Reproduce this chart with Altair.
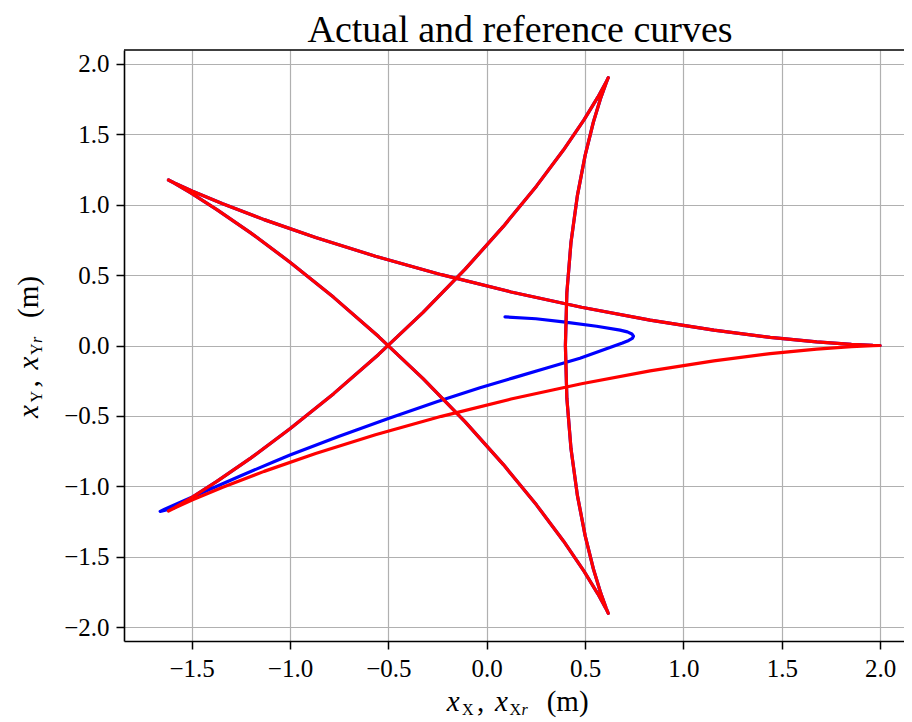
import altair as alt
import pandas as pd

# ---------------- data ----------------
ref_x = [2.0, 1.9631, 1.8541, 1.6775, 1.4411, 1.1547, 0.8305, 0.4820, 0.1236, -0.2303, -0.5657, -0.8698, -1.1317, -1.3423, -1.4955, -1.5876, -1.6180,
         -1.5888, -1.5045, -1.3719, -1.2000, -0.9985, -0.7781, -0.5497, -0.3236, -0.1094, 0.0848, 0.2527, 0.3900, 0.4944, 0.5657, 0.6057, 0.6180,
         0.6076, 0.5802, 0.5424, 0.5006, 0.4609, 0.4285, 0.4074, 0.4000, 0.4074, 0.4285, 0.4609, 0.5006, 0.5424, 0.5802, 0.6076, 0.6180,
         0.6057, 0.5657, 0.4944, 0.3900, 0.2527, 0.0848, -0.1094, -0.3236, -0.5497, -0.7781, -0.9985, -1.2000, -1.3719, -1.5045, -1.5888, -1.6180,
         -1.5876, -1.4955, -1.3423, -1.1317, -0.8698, -0.5657, -0.2303, 0.1236, 0.4820, 0.8305, 1.1547, 1.4411, 1.6775, 1.8541, 1.9631, 2.0]
ref_y = [0.0, 0.0010, 0.0076, 0.0252, 0.0581, 0.1094, 0.1807, 0.2717, 0.3804, 0.5031, 0.6343, 0.7672, 0.8941, 1.0064, 1.0960, 1.1547, 1.1756,
         1.1531, 1.0837, 0.9656, 0.8001, 0.5902, 0.3420, 0.0635, -0.2351, -0.5424, -0.8457, -1.1319, -1.3885, -1.6032, -1.7657, -1.8674, -1.9021,
         -1.8667, -1.7610, -1.5876, -1.3526, -1.0644, -0.7340, -0.3745, 0.0, 0.3745, 0.7340, 1.0644, 1.3526, 1.5876, 1.7610, 1.8667, 1.9021,
         1.8674, 1.7657, 1.6032, 1.3885, 1.1319, 0.8457, 0.5424, 0.2351, -0.0635, -0.3420, -0.5902, -0.8001, -0.9656, -1.0837, -1.1531, -1.1756,
         -1.1547, -1.0960, -1.0064, -0.8941, -0.7672, -0.6343, -0.5031, -0.3804, -0.2717, -0.1807, -0.1094, -0.0581, -0.0252, -0.0076, -0.0010, 0.0]

act_x = [0.093, 0.25, 0.389, 0.559, 0.678, 0.715, 0.738, 0.746, 0.740, 0.722, 0.690, 0.644, 0.474, 0.305, 0.135, -0.034,
         -0.25, -0.5, -0.75, -1.0, -1.085, -1.25, -1.45, -1.58, -1.64, -1.66,
         -1.5888, -1.5045, -1.3719, -1.2000, -0.9985, -0.7781, -0.5497, -0.3236, -0.1094, 0.0848, 0.2527, 0.3900, 0.4944, 0.5657, 0.6057, 0.6180,
         0.6076, 0.5802, 0.5424, 0.5006, 0.4609, 0.4285, 0.4074, 0.4000, 0.4074, 0.4285, 0.4609, 0.5006, 0.5424, 0.5802, 0.6076, 0.6180,
         0.6057, 0.5657, 0.4944, 0.3900, 0.2527, 0.0848, -0.1094, -0.3236, -0.5497, -0.7781, -0.9985, -1.2000, -1.3719, -1.5045, -1.5888, -1.6180,
         -1.5876, -1.4955, -1.3423, -1.1317, -0.8698, -0.5657, -0.2303, 0.1236, 0.4820, 0.8305, 1.1547, 1.4411, 1.6775, 1.8541, 1.9631, 2.0]
act_y = [0.203, 0.19, 0.168, 0.137, 0.109, 0.097, 0.082, 0.066, 0.050, 0.036, 0.018, -0.006, -0.090, -0.160, -0.230, -0.300,
         -0.398, -0.518, -0.645, -0.778, -0.827, -0.925, -1.048, -1.128, -1.165, -1.178,
         -1.1531, -1.0837, -0.9656, -0.8001, -0.5902, -0.3420, -0.0635, 0.2351, 0.5424, 0.8457, 1.1319, 1.3885, 1.6032, 1.7657, 1.8674, 1.9021,
         1.8667, 1.7610, 1.5876, 1.3526, 1.0644, 0.7340, 0.3745, 0.0, -0.3745, -0.7340, -1.0644, -1.3526, -1.5876, -1.7610, -1.8667, -1.9021,
         -1.8674, -1.7657, -1.6032, -1.3885, -1.1319, -0.8457, -0.5424, -0.2351, 0.0635, 0.3420, 0.5902, 0.8001, 0.9656, 1.0837, 1.1531, 1.1756,
         1.1547, 1.0960, 1.0064, 0.8941, 0.7672, 0.6343, 0.5031, 0.3804, 0.2717, 0.1807, 0.1094, 0.0581, 0.0252, 0.0076, 0.0010, 0.0]

x_ticks = [-1.5, -1.0, -0.5, 0.0, 0.5, 1.0, 1.5, 2.0]
y_ticks = [-2.0, -1.5, -1.0, -0.5, 0.0, 0.5, 1.0, 1.5, 2.0]
x_domain = [-1.844, 2.1214]
y_domain = [-2.099, 2.099]

chart_title = "Actual and reference curves"
# axis title pieces: (text, offset along title, italic, subscript)
x_title_parts = [("x", 0, True, False), ("X", 15.3, False, True), (",", 30.3, False, False),
                 ("x", 48.3, True, False), ("X", 62.8, False, True), ("r", 74.8, True, True),
                 ("(m)", 100, False, False)]
y_title_parts = [("x", 0, True, False), ("Y", 15.3, False, True), (",", 30.3, False, False),
                 ("x", 48.3, True, False), ("Y", 62.8, False, True), ("r", 74.8, True, True),
                 ("(m)", 100, False, False)]

# ---------------- layout / style ----------------
W, H = 780, 591
FONT = "Liberation Serif"
MAIN_SIZE, SUB_SIZE = 29, 16

ref_df = pd.DataFrame({"x": ref_x, "y": ref_y, "i": list(range(len(ref_x)))})
act_df = pd.DataFrame({"x": act_x, "y": act_y, "i": list(range(len(act_x)))})

xs = alt.Scale(domain=x_domain, nice=False, zero=False)
ys = alt.Scale(domain=y_domain, nice=False, zero=False)

common_axis = dict(
    title=None, format=".1f", grid=True, gridColor="#b0b0b0", gridWidth=1.2,
    domainColor="black", domainWidth=1.6, tickColor="black", tickWidth=1.5, tickSize=8,
    labelFont=FONT, labelFontSize=25, labelColor="black", labelPadding=7,
    labelFlush=False, labelOverlap=False,
)
x_axis = alt.Axis(values=x_ticks, **common_axis)
y_axis = alt.Axis(values=y_ticks, **common_axis)

act = alt.Chart(act_df).mark_line(
    color="#0000ff", strokeWidth=3.2, strokeCap="round", strokeJoin="round"
).encode(
    x=alt.X("x:Q", scale=xs, axis=x_axis),
    y=alt.Y("y:Q", scale=ys, axis=y_axis),
    order="i:Q",
)
ref = alt.Chart(ref_df).mark_line(
    color="#ff0000", strokeWidth=3.2, strokeCap="round", strokeJoin="round"
).encode(
    x=alt.X("x:Q", scale=xs, axis=x_axis),
    y=alt.Y("y:Q", scale=ys, axis=y_axis),
    order="i:Q",
)

one = alt.Data(values=[{}])
top_border = alt.Chart(one).mark_rule(color="black", strokeWidth=1.6).encode(
    x=alt.value(0), x2=alt.value(W), y=alt.value(0)
)


def piece(text, px, py, size, italic, angle=0, align="left"):
    return alt.Chart(one).mark_text(
        text=text, font=FONT, fontSize=size,
        fontStyle="italic" if italic else "normal",
        align=align, baseline="alphabetic", angle=angle, color="black",
    ).encode(x=alt.value(px), y=alt.value(py))


layers = [act, ref, top_border]
# chart title (centred over the plot)
layers.append(piece(chart_title, 396, -8, 38, False, align="center"))
# x axis title (below plot)
XT_START, XT_BASE = 322.7, 661
for txt, off, ital, sub in x_title_parts:
    layers.append(piece(txt, XT_START + off, XT_BASE + (4 if sub else 0),
                        SUB_SIZE if sub else MAIN_SIZE, ital))
# y axis title (rotated, left of plot)
YT_START, YT_BASE = 367.9, -85.7
for txt, off, ital, sub in y_title_parts:
    layers.append(piece(txt, YT_BASE + (4 if sub else 0), YT_START - off,
                        SUB_SIZE if sub else MAIN_SIZE, ital, angle=270))

chart = alt.layer(*layers).properties(
    width=W, height=H,
    autosize=alt.AutoSizeParams(type="none"),
    padding={"left": 116, "top": 42, "right": 0, "bottom": 81},
).configure_view(stroke="transparent")

chart.save("out.html", embed_options={"renderer": "svg", "actions": False})
